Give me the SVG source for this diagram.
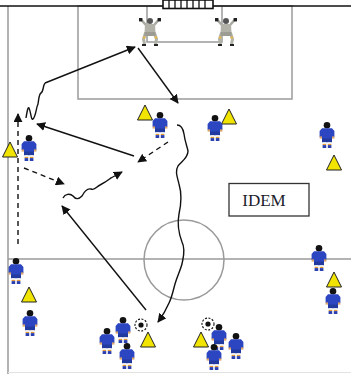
<svg xmlns="http://www.w3.org/2000/svg" width="351" height="374" viewBox="0 0 351 374">
  <style>
    .pitch { fill: none; stroke: #9a9a9a; stroke-width: 1.5; }
    .mv { fill: none; stroke: #111; stroke-width: 1.4; }
    .dash { stroke-dasharray: 5 4; }
    .cone { fill: #f0e400; stroke: #222; stroke-width: 1; }
    .lbl { font-family: "Liberation Serif", "Times New Roman", serif; font-size: 17px; fill: #1c1c2c; }
  </style>
  <defs>
    <marker id="ah" viewBox="0 0 10 10" refX="9" refY="5" markerWidth="9" markerHeight="9" orient="auto" markerUnits="userSpaceOnUse">
      <path d="M0,0 L10,5 L0,10 Z" fill="#111"/>
    </marker>
    <!-- outfield player seen from behind, origin = top of head -->
    <g id="player">
      <circle cx="0" cy="3.3" r="3.3" fill="#121212"/>
      <path d="M-5,6.2 L5,6.2 L7.4,9 L7.4,15 L5,15 L5,17 L-5,17 L-5,15 L-7.4,15 L-7.4,9 Z" fill="#2c46c2"/>
      <rect x="-7.4" y="14.4" width="2.4" height="2.2" fill="#d9a56a"/>
      <rect x="5" y="14.4" width="2.4" height="2.2" fill="#d9a56a"/>
      <rect x="-5" y="16.5" width="10" height="3.8" fill="#223a9e"/>
      <rect x="-4.4" y="20.3" width="3.6" height="1.6" fill="#f4f4f4"/>
      <rect x="0.8" y="20.3" width="3.6" height="1.6" fill="#f4f4f4"/>
      <rect x="-4.4" y="21.9" width="3.6" height="1.2" fill="#e29a3a"/>
      <rect x="0.8" y="21.9" width="3.6" height="1.2" fill="#e29a3a"/>
      <rect x="-4.4" y="23.1" width="3.6" height="2.9" fill="#2a40b0"/>
      <rect x="0.8" y="23.1" width="3.6" height="2.9" fill="#2a40b0"/>
    </g>
    <!-- goalkeeper in ready stance, origin = top of head -->
    <g id="keeper">
      <path d="M-5,6 L-9,1.5 M5,6 L9,1.5" stroke="#a8a8a0" stroke-width="2.6" stroke-linecap="round"/>
      <rect x="-11" y="0" width="3.4" height="3.4" fill="#222"/>
      <rect x="7.6" y="0" width="3.4" height="3.4" fill="#222"/>
      <circle cx="0" cy="3" r="3" fill="#555"/>
      <path d="M-5,6 L5,6 L5.5,15 L-5.5,15 Z" fill="#b2b2a8"/>
      <path d="M-4.5,15 L-6.5,21 L-5.5,26 M4.5,15 L6.5,21 L5.5,26" fill="none" stroke="#b2b2a8" stroke-width="3"/>
      <rect x="-5.5" y="14" width="11" height="4" fill="#9c9c94"/>
      <circle cx="-5.8" cy="19.5" r="1.3" fill="#e6b84a"/>
      <circle cx="5.8" cy="19.5" r="1.3" fill="#e6b84a"/>
      <path d="M-8,26 L-4,26 L-4,28 L-8,28 Z M8,26 L4,26 L4,28 L8,28 Z" fill="#222"/>
    </g>
    <path id="tri" d="M0,0 L7.5,15 L-7.5,15 Z"/>
    <g id="ball">
      <circle cx="0" cy="0" r="6" fill="#fff" stroke="#111" stroke-width="1.1" stroke-dasharray="2 1.5"/>
      <circle cx="0" cy="0" r="2.6" fill="#111"/>
    </g>
  </defs>

  <rect width="351" height="374" fill="#fff"/>

  <!-- pitch markings -->
  <g id="pitch">
    <line x1="8" y1="6" x2="8" y2="374" class="pitch" stroke="#a0a0a0"/>
    <line x1="8" y1="372.5" x2="351" y2="372.5" stroke="#e2e2e2" stroke-width="1.2"/>
    <rect x="78" y="6" width="214" height="93" class="pitch"/>
    <path d="M147,6 V42 H222 V6" class="pitch" stroke="#b0b0b0"/>
    <line x1="8" y1="259" x2="351" y2="259" class="pitch" stroke="#8e8e8e"/>
    <circle cx="184" cy="260" r="40" class="pitch" stroke="#8a8a8a" stroke-width="1.2"/>
    <line x1="0" y1="6" x2="351" y2="6" stroke="#111" stroke-width="1.5"/>
  </g>

  <!-- goal with net -->
  <g id="goal">
    <rect x="163" y="0" width="50" height="8.5" fill="#fff" stroke="#111" stroke-width="1.6"/>
    <path d="M169,0 V8 M175,0 V8 M181,0 V8 M187,0 V8 M193,0 V8 M199,0 V8 M205,0 V8" stroke="#111" stroke-width="1.3"/>
  </g>

  <!-- goalkeepers -->
  <g id="gk-left"><use href="#keeper" x="150" y="18"/></g>
  <g id="gk-right"><use href="#keeper" x="226" y="18"/></g>

  <!-- movement lines -->
  <g id="connectors">
    <line x1="18" y1="244" x2="18" y2="114" class="mv dash" marker-end="url(#ah)"/>
    <path d="M26,118 C27,112 28,106 29,108 C31,112 31,121 33,119 C36,116 36,108 38,104 C39,98 39,94 41,93 C43,92 43,88 44,85 L45,83" class="mv"/>
    <line x1="45" y1="83" x2="135" y2="47" class="mv" marker-end="url(#ah)"/>
    <line x1="138" y1="48" x2="178" y2="103" class="mv" marker-end="url(#ah)"/>
    <line x1="134" y1="156" x2="37" y2="124" class="mv" marker-end="url(#ah)"/>
    <line x1="168" y1="142" x2="138" y2="162" class="mv dash" marker-end="url(#ah)"/>
    <line x1="24" y1="168" x2="64" y2="184" class="mv dash" marker-end="url(#ah)"/>
    <path d="M63,198 C65,194 70,193 73,196 C76,200 79,199 82,196 C84,192 87,188 91,189 C95,191 97,186 100,185 C104,183 107,181 111,178" class="mv"/>
    <line x1="110" y1="178.5" x2="122" y2="172" class="mv" marker-end="url(#ah)"/>
    <line x1="146" y1="310" x2="62" y2="206" class="mv" marker-end="url(#ah)"/>
    <path d="M177,125 C181,125 183,128 184,134 C185,142 187,146 188,151 C188,158 182,161 178,166 C175,171 177,176 179,184 C182,194 181,205 179,214 C177,224 179,234 182,242 C186,250 183,258 182,264 C180,271 177,277 175,284 C173,291 172,297 169,303 C166,310 164,314 158,322" class="mv" marker-end="url(#ah)"/>
  </g>

  <!-- cones -->
  <g id="cones">
    <use href="#tri" x="10" y="142" class="cone"/>
    <use href="#tri" x="145" y="105" class="cone"/>
    <use href="#tri" x="229" y="109" class="cone"/>
    <use href="#tri" x="334" y="155" class="cone"/>
    <use href="#tri" x="29" y="287" class="cone"/>
    <use href="#tri" x="148" y="332" class="cone"/>
    <use href="#tri" x="201" y="332" class="cone"/>
    <use href="#tri" x="334" y="272" class="cone"/>
  </g>

  <!-- balls -->
  <g id="ball-1"><use href="#ball" x="141" y="325"/></g>
  <g id="ball-2"><use href="#ball" x="208" y="324"/></g>

  <!-- players -->
  <g id="player-1"><use href="#player" x="29" y="135"/></g>
  <g id="player-2"><use href="#player" x="160" y="112"/></g>
  <g id="player-3"><use href="#player" x="215" y="115"/></g>
  <g id="player-4"><use href="#player" x="327" y="122"/></g>
  <g id="player-5"><use href="#player" x="16" y="258"/></g>
  <g id="player-6"><use href="#player" x="30" y="310"/></g>
  <g id="player-7"><use href="#player" x="107" y="328"/></g>
  <g id="player-8"><use href="#player" x="123" y="317"/></g>
  <g id="player-9"><use href="#player" x="127" y="343"/></g>
  <g id="player-10"><use href="#player" x="219" y="324"/></g>
  <g id="player-11"><use href="#player" x="214" y="344"/></g>
  <g id="player-12"><use href="#player" x="236" y="333"/></g>
  <g id="player-13"><use href="#player" x="319" y="245"/></g>
  <g id="player-14"><use href="#player" x="333" y="288"/></g>

  <!-- label box -->
  <g id="idem">
    <rect x="229" y="183.5" width="80" height="32.5" fill="#fff" stroke="#333" stroke-width="1.3"/>
    <text x="264" y="206" text-anchor="middle" class="lbl">IDEM</text>
  </g>
</svg>
